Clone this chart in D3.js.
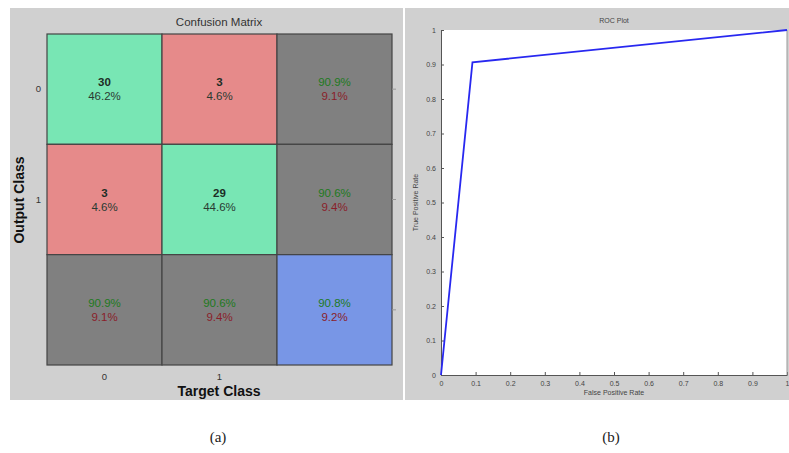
<!DOCTYPE html>
<html lang="en">
<head>
  <meta charset="UTF-8">
  <title>Confusion Matrix and ROC</title>
  <style>
    body { margin: 0; background: #fff; }
    svg { display: block; font-family: 'Liberation Sans', Arial, sans-serif; }
  </style>
</head>
<body>
  <script src="https://d3js.org/d3.v7.min.js"></script>
  <script>
    const width = 789;
    const height = 453;

    // confusion matrix data (rows = output class, cols = target class)
    const classes = ['0', '1'];
    const counts = [[30, 3], [3, 29]];

    // ROC curve points
    const rocFpr = [0, 0.0909, 1];
    const rocTpr = [0, 0.9062, 1];
    const rocTicks = [0, 0.1, 0.2, 0.3, 0.4, 0.5, 0.6, 0.7, 0.8, 0.9, 1];

    const captions = ['(a)', '(b)'];

    const svg = d3.select('body')
                  .append('svg')
                  .attr('width', width)
                  .attr('height', height);

    // ---------- panel (a) ----------
    svg.append('rect')
       .attr('x', 10).attr('y', 8)
       .attr('width', 393).attr('height', 392)
       .attr('fill', '#d0d0d0');

    svg.append('text')
       .attr('x', 219).attr('y', 26)
       .attr('text-anchor', 'middle')
       .attr('font-size', 11.5)
       .attr('fill', '#333')
       .text('Confusion Matrix');

    const keys = classes.concat(['all']);
    const x = d3.scaleBand().domain(keys).range([47, 392]);
    const y = d3.scaleBand().domain(keys).range([34, 365]);

    const total = d3.sum(counts.flat());
    const fmt = v => (v * 100).toFixed(1) + '%';

    const cells = [];
    classes.forEach((r, i) => {
      classes.forEach((c, j) => {
        const v = counts[i][j];
        cells.push({ row: r, col: c, type: i === j ? 'good' : 'bad',
                     lines: [String(v), fmt(v / total)] });
      });
      const rowSum = d3.sum(counts[i]);
      const p = counts[i][i] / rowSum;
      cells.push({ row: r, col: 'all', type: 'sum', lines: [fmt(p), fmt(1 - p)] });
    });
    classes.forEach((c, j) => {
      const colSum = d3.sum(counts, d => d[j]);
      const p = counts[j][j] / colSum;
      cells.push({ row: 'all', col: c, type: 'sum', lines: [fmt(p), fmt(1 - p)] });
    });
    const correct = d3.sum(classes, (c, i) => counts[i][i]);
    cells.push({ row: 'all', col: 'all', type: 'total',
                 lines: [fmt(correct / total), fmt(1 - correct / total)] });

    const fills = { good: '#78e6b4', bad: '#e68a8a', sum: '#808080', total: '#7896e6' };

    const g = svg.append('g');
    g.selectAll('rect.cell')
     .data(cells)
     .enter()
     .append('rect')
     .attr('class', 'cell')
     .attr('x', d => x(d.col))
     .attr('y', d => y(d.row))
     .attr('width', x.bandwidth())
     .attr('height', y.bandwidth())
     .attr('fill', d => fills[d.type])
     .attr('stroke', '#444')
     .attr('stroke-width', 1.2);

    const lineColors = d => d.type === 'good' || d.type === 'bad'
      ? ['#1d2d25', '#2a3a32'] : ['#1e7a1e', '#8a1e2a'];

    cells.forEach(d => {
      const cx = x(d.col) + x.bandwidth() / 2;
      const cy = y(d.row) + y.bandwidth() / 2;
      const cols = lineColors(d);
      d.lines.forEach((t, k) => {
        g.append('text')
         .attr('x', cx)
         .attr('y', cy - 3 + k * 14)
         .attr('text-anchor', 'middle')
         .attr('font-size', 11.5)
         .attr('font-weight', k === 0 && (d.type === 'good' || d.type === 'bad') ? 'bold' : 'normal')
         .attr('fill', cols[k])
         .text(t);
      });
    });

    // tick labels
    g.selectAll('text.ylab')
     .data(classes)
     .enter()
     .append('text')
     .attr('class', 'ylab')
     .attr('x', 41)
     .attr('y', d => y(d) + y.bandwidth() / 2 + 3)
     .attr('text-anchor', 'end')
     .attr('font-size', 9.5)
     .attr('fill', '#333')
     .text(d => d);

    g.selectAll('text.xlab')
     .data(classes)
     .enter()
     .append('text')
     .attr('class', 'xlab')
     .attr('x', d => x(d) + x.bandwidth() / 2)
     .attr('y', 380)
     .attr('text-anchor', 'middle')
     .attr('font-size', 9.5)
     .attr('fill', '#333')
     .text(d => d);

    // small right-side ticks
    g.selectAll('line.rtick')
     .data(keys)
     .enter()
     .append('line')
     .attr('class', 'rtick')
     .attr('x1', 392).attr('x2', 396)
     .attr('y1', d => y(d) + y.bandwidth() / 2)
     .attr('y2', d => y(d) + y.bandwidth() / 2)
     .attr('stroke', '#999');

    g.append('text')
     .attr('x', 219).attr('y', 396)
     .attr('text-anchor', 'middle')
     .attr('font-size', 14)
     .attr('font-weight', 'bold')
     .attr('fill', '#111')
     .text('Target Class');

    g.append('text')
     .attr('transform', 'translate(24,200) rotate(-90)')
     .attr('text-anchor', 'middle')
     .attr('font-size', 14)
     .attr('font-weight', 'bold')
     .attr('fill', '#111')
     .text('Output Class');

    // ---------- panel (b) ----------
    svg.append('rect')
       .attr('x', 405).attr('y', 8)
       .attr('width', 384).attr('height', 392)
       .attr('fill', '#d0d0d0');

    const px = d3.scaleLinear().domain([0, 1]).range([441, 787]);
    const py = d3.scaleLinear().domain([0, 1]).range([375, 30]);

    svg.append('rect')
       .attr('x', px(0)).attr('y', py(1))
       .attr('width', px(1) - px(0)).attr('height', py(0) - py(1))
       .attr('fill', '#fff');

    svg.append('text')
       .attr('x', 614).attr('y', 23)
       .attr('text-anchor', 'middle')
       .attr('font-size', 7)
       .attr('fill', '#444')
       .text('ROC Plot');

    const xAxis = d3.axisBottom(px)
                    .tickValues(rocTicks)
                    .tickFormat(d3.format('~g'))
                    .tickSizeInner(-3)
                    .tickSizeOuter(0)
                    .tickPadding(6);
    const yAxis = d3.axisLeft(py)
                    .tickValues(rocTicks)
                    .tickFormat(d3.format('~g'))
                    .tickSizeInner(-3)
                    .tickSizeOuter(0)
                    .tickPadding(5);

    const ax = svg.append('g')
       .attr('transform', 'translate(0,' + py(0) + ')')
       .call(xAxis);
    const ay = svg.append('g')
       .attr('transform', 'translate(' + px(0) + ',0)')
       .call(yAxis);
    [ax, ay].forEach(a => {
      a.selectAll('path').attr('stroke', '#555');
      a.selectAll('line').attr('stroke', '#555');
      a.selectAll('text').attr('font-size', 7).attr('fill', '#444')
       .attr('font-family', "'Liberation Sans', Arial, sans-serif");
    });

    // right box edge
    svg.append('line')
       .attr('x1', px(1)).attr('x2', px(1))
       .attr('y1', py(0)).attr('y2', py(1))
       .attr('stroke', '#999');

    svg.append('text')
       .attr('x', 614).attr('y', 395)
       .attr('text-anchor', 'middle')
       .attr('font-size', 7)
       .attr('fill', '#444')
       .text('False Positive Rate');

    svg.append('text')
       .attr('transform', 'translate(418,' + py(0.5) + ') rotate(-90)')
       .attr('text-anchor', 'middle')
       .attr('font-size', 7)
       .attr('fill', '#444')
       .text('True Positive Rate');

    const line = d3.line()
                   .x(d => px(d[0]))
                   .y(d => py(d[1]));
    svg.append('path')
       .datum(rocFpr.map((f, i) => [f, rocTpr[i]]))
       .attr('d', line)
       .attr('fill', 'none')
       .attr('stroke', '#2828f0')
       .attr('stroke-width', 1.8);

    // ---------- captions ----------
    svg.selectAll('text.cap')
       .data(captions)
       .enter()
       .append('text')
       .attr('class', 'cap')
       .attr('x', (d, i) => i === 0 ? 218 : 611)
       .attr('y', 442)
       .attr('text-anchor', 'middle')
       .attr('font-family', "'Liberation Serif', serif")
       .attr('font-size', 15)
       .attr('fill', '#222')
       .text(d => d);
  </script>
</body>
</html>
